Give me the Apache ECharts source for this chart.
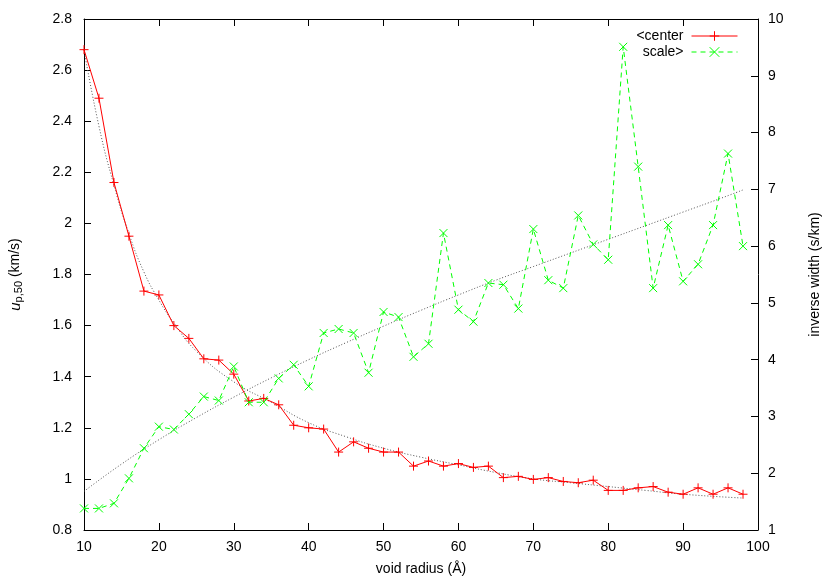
<!DOCTYPE html>
<html>
<head>
<meta charset="utf-8">
<script src="https://cdn.jsdelivr.net/npm/echarts@6/dist/echarts.min.js"></script>
<style>
  html, body { margin: 0; padding: 0; background: #fff; }
  #chart { width: 830px; height: 581px; }
</style>
</head>
<body>
<div id="chart"></div>
<script>
// void radius (Å)
const radius = [10, 12, 14, 16, 18, 20, 22, 24, 26, 28, 30, 32, 34, 36, 38, 40, 42, 44, 46, 48,
  50, 52, 54, 56, 58, 60, 62, 64, 66, 68, 70, 72, 74, 76, 78, 80, 82, 84, 86, 88,
  90, 92, 94, 96, 98];

// <center  (km/s), left axis
const centerVals = [2.68, 2.49, 2.16, 1.95, 1.735, 1.72, 1.60, 1.55, 1.47, 1.465,
  1.41, 1.305, 1.315, 1.29, 1.21, 1.20, 1.195, 1.105, 1.145, 1.12,
  1.105, 1.105, 1.05, 1.07, 1.05, 1.06, 1.045, 1.05, 1.005, 1.01,
  0.998, 1.005, 0.99, 0.985, 0.995, 0.955, 0.955, 0.965, 0.97, 0.948,
  0.94, 0.965, 0.94, 0.965, 0.94];

// scale>  (s/km), right axis
const scaleVals = [1.38, 1.38, 1.47, 1.91, 2.44, 2.82, 2.77, 3.04, 3.35, 3.28,
  3.88, 3.25, 3.25, 3.67, 3.91, 3.53, 4.47, 4.54, 4.47, 3.77,
  4.84, 4.75, 4.05, 4.28, 6.23, 4.88, 4.67, 5.35, 5.32, 4.90,
  6.30, 5.40, 5.26, 6.54, 6.03, 5.76, 9.51, 7.40, 5.26, 6.37,
  5.38, 5.68, 6.37, 7.63, 6.00];

// dotted fit curves
const centerFitX = [10, 12, 14, 16, 18, 20, 22, 25, 30, 35, 40, 45, 50, 55, 60, 65, 70, 75, 80, 85, 90, 98];
const centerFitY = [2.68, 2.38, 2.15, 1.96, 1.81, 1.70, 1.61, 1.50, 1.38, 1.30, 1.22, 1.165, 1.12, 1.085, 1.055, 1.025, 1.0, 0.985, 0.97, 0.955, 0.94, 0.925];
const scaleFitX = [10, 15, 20, 25, 30, 35, 40, 45, 50, 55, 60, 65, 70, 75, 80, 85, 90, 95, 98];
const scaleFitY = [1.68, 2.16, 2.59, 2.98, 3.34, 3.68, 4.0, 4.3, 4.59, 4.87, 5.14, 5.4, 5.64, 5.88, 6.12, 6.36, 6.6, 6.84, 6.99];

const xTicks = { min: 10, max: 100, interval: 10 };
const leftTicks = { min: 0.8, max: 2.8, interval: 0.2 };
const rightTicks = { min: 1, max: 10, interval: 1 };

const font = 'Liberation Sans, Arial, sans-serif';
const plusSymbol = 'path://M0,5L10,5M5,0L5,10';
const crossSymbol = 'path://M0,0L10,10M10,0L0,10';

const pairs = (xs, ys) => xs.map((x, i) => [x, ys[i]]);

const chart = echarts.init(document.getElementById('chart'), null, { renderer: 'canvas' });

const axisLine = { show: true, lineStyle: { color: '#000', width: 1 } };
const axisTick = { show: true, inside: true, length: 7, lineStyle: { color: '#000' } };
const axisLabel = { color: '#000', fontFamily: font, fontSize: 14 };

chart.setOption({
  animation: false,
  backgroundColor: '#fff',
  grid: { left: 82, right: 72, top: 19, bottom: 49 },
  legend: {
    orient: 'vertical',
    right: 92,
    top: 28,
    padding: 0,
    align: 'right',
    itemWidth: 46,
    itemHeight: 12,
    itemGap: 0,
    lineStyle: { width: 1 },
    itemStyle: { borderWidth: 1 },
    textStyle: { color: '#000', fontFamily: font, fontSize: 14, padding: [0, 3, 0, 0], lineHeight: 16 },
    data: ['<center', 'scale>']
  },
  xAxis: [
    {
      type: 'value', ...xTicks, position: 'bottom',
      name: 'void radius (Å)', nameLocation: 'middle', nameGap: 32,
      nameTextStyle: { color: '#000', fontFamily: font, fontSize: 14 },
      axisLine, axisTick, axisLabel: { ...axisLabel, margin: 10 },
      splitLine: { show: false }
    },
    {
      type: 'value', ...xTicks, position: 'top',
      axisLine, axisTick, axisLabel: { show: false },
      splitLine: { show: false }
    }
  ],
  yAxis: [
    {
      type: 'value', ...leftTicks, position: 'left',
      name: '{i|u}{s|p,50} (km/s)', nameLocation: 'middle', nameGap: 60, nameRotate: 90,
      nameTextStyle: {
        color: '#000', fontFamily: font, fontSize: 14,
        rich: {
          i: { fontStyle: 'italic', fontFamily: font, fontSize: 15, color: '#000' },
          s: { fontFamily: font, fontSize: 11, color: '#000', verticalAlign: 'bottom', padding: [6, 0, 0, 0] }
        }
      },
      axisLine, axisTick, axisLabel: { ...axisLabel, margin: 12 },
      splitLine: { show: false }
    },
    {
      type: 'value', ...rightTicks, position: 'right',
      name: 'inverse width (s/km)', nameLocation: 'middle', nameGap: 50, nameRotate: 90,
      nameTextStyle: { color: '#000', fontFamily: font, fontSize: 14 },
      axisLine, axisTick, axisLabel: { ...axisLabel, margin: 10 },
      splitLine: { show: false }
    }
  ],
  series: [
    {
      name: '<center', type: 'line', xAxisIndex: 0, yAxisIndex: 0,
      data: pairs(radius, centerVals),
      symbol: plusSymbol, symbolSize: 9, showAllSymbol: true,
      lineStyle: { color: '#ff0000', width: 1 },
      itemStyle: { color: 'none', borderColor: '#ff0000', borderWidth: 1 },
      z: 3
    },
    {
      name: 'scale>', type: 'line', xAxisIndex: 0, yAxisIndex: 1,
      data: pairs(radius, scaleVals),
      symbol: crossSymbol, symbolSize: 8, showAllSymbol: true,
      lineStyle: { color: '#00ff00', width: 1, type: [5, 4] },
      itemStyle: { color: 'none', borderColor: '#00ff00', borderWidth: 1 },
      z: 3
    },
    {
      name: 'centerFit', type: 'line', xAxisIndex: 0, yAxisIndex: 0,
      data: pairs(centerFitX, centerFitY),
      smooth: true, symbol: 'none',
      lineStyle: { color: '#555', width: 1, type: [1, 2] },
      z: 2
    },
    {
      name: 'scaleFit', type: 'line', xAxisIndex: 0, yAxisIndex: 1,
      data: pairs(scaleFitX, scaleFitY),
      smooth: true, symbol: 'none',
      lineStyle: { color: '#555', width: 1, type: [1, 2] },
      z: 2
    }
  ]
});
</script>
</body>
</html>
